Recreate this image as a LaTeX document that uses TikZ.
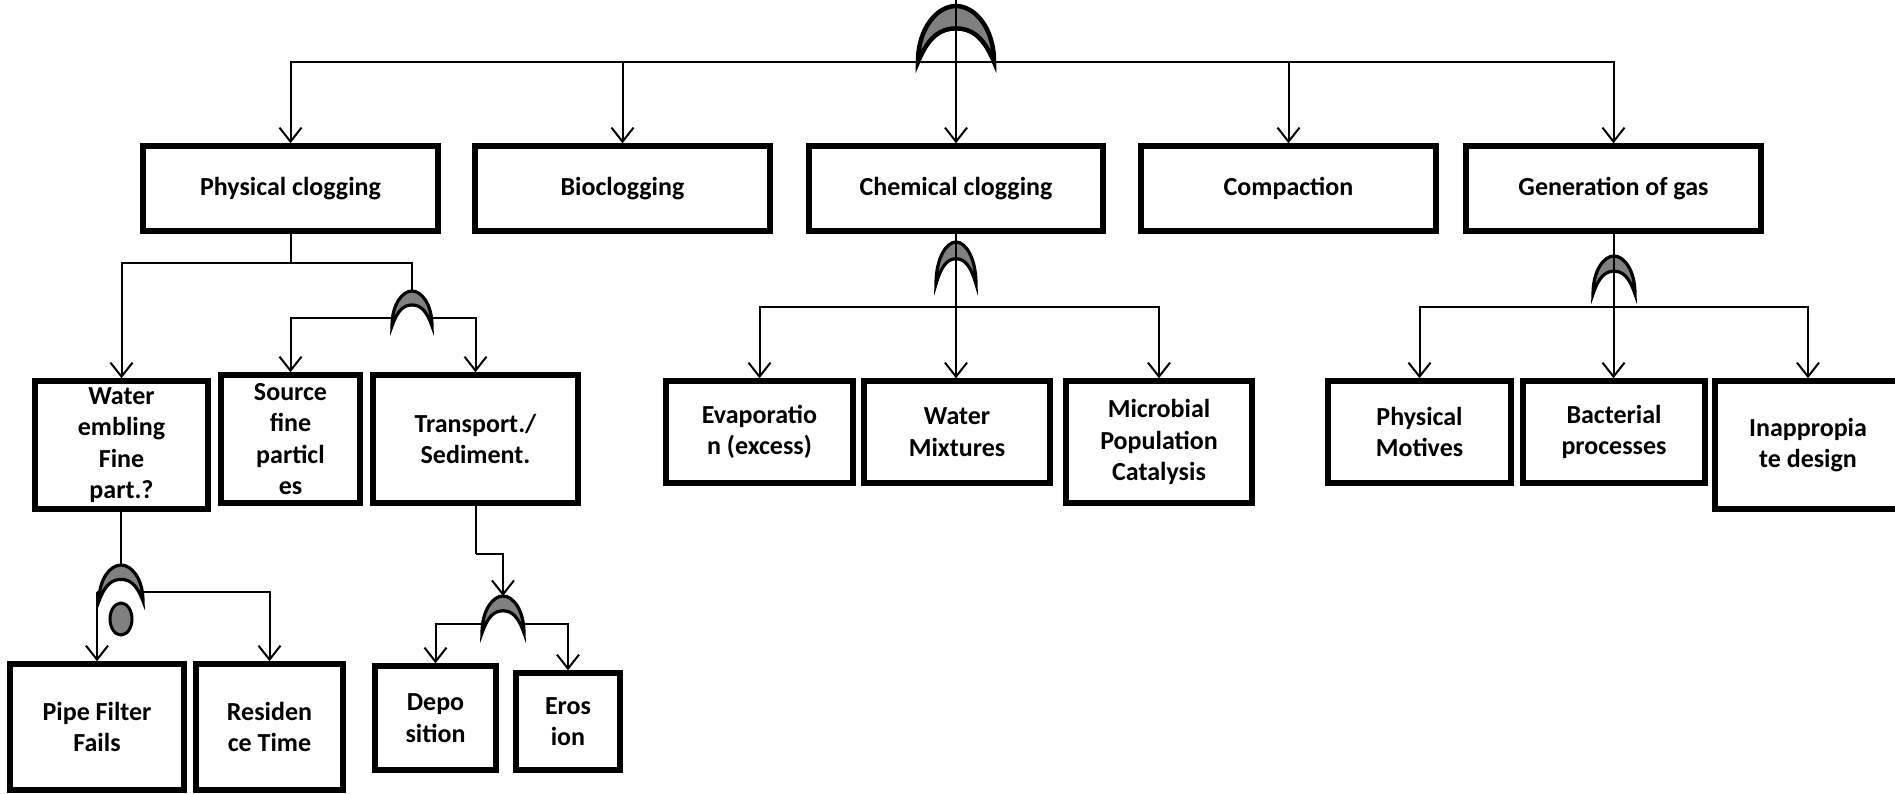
\documentclass[tikz,border=0pt]{standalone}
\usepackage{fontspec}
\setmainfont{Carlito}
\usetikzlibrary{arrows.meta,shapes.geometric,calc}
\tikzset{
  box/.style={draw, line width=5.5pt, inner sep=0pt, align=center,
    font=\fontsize{26}{31.5}\selectfont\bfseries},
  arr/.style={line width=2pt, -{Straight Barb[length=14pt,width=22pt]}},
  ln/.style={line width=2pt},
  gatefill/.style={fill=gray, draw=black, line join=miter},
  pics/orgate/.style n args={3}{code={
    \filldraw[gatefill, line width=#3] (-#1/2,0) .. controls (-#1/2,-0.62*#2) and (-0.24*#1,-#2) .. (0,-#2)
      .. controls (0.24*#1,-#2) and (#1/2,-0.62*#2) .. (#1/2,0)
      .. controls (0.36*#1,-0.46*#2) and (0.2*#1,-0.6*#2) .. (0,-0.6*#2)
      .. controls (-0.2*#1,-0.6*#2) and (-0.36*#1,-0.46*#2) .. cycle;
  }}
}
\begin{document}
\begin{tikzpicture}[x=1pt,y=-1pt]
\useasboundingbox (0,0) rectangle (1895,793);
% boxes
\node[box, minimum width=295, minimum height=85] (phys) at (290.5,188.5) {Physical clogging};
\node[box, minimum width=295, minimum height=85] (bio) at (622.5,188.5) {Bioclogging};
\node[box, minimum width=294, minimum height=85] (chem) at (956,188.5) {Chemical clogging};
\node[box, minimum width=295, minimum height=85] (comp) at (1288.5,188.5) {Compaction};
\node[box, minimum width=295, minimum height=85] (gas) at (1613.5,188.5) {Generation of gas};
\node[box, minimum width=173, minimum height=128] (water) at (121.5,445) {Water\\embling\\Fine\\part.?};
\node[box, minimum width=139, minimum height=128] (source) at (290.5,439) {Source\\fine\\particl\\es};
\node[box, minimum width=205, minimum height=128] (transport) at (475.5,439) {Transport./\\Sediment.};
\node[box, minimum width=174, minimum height=126] (pipe) at (97,727) {Pipe Filter\\Fails};
\node[box, minimum width=147, minimum height=126] (resid) at (269.5,727) {Residen\\ce Time};
\node[box, minimum width=121, minimum height=104] (depo) at (435.5,718) {Depo\\sition};
\node[box, minimum width=104, minimum height=97] (eros) at (568,721.5) {Eros\\ion};
\node[box, minimum width=187, minimum height=102] (evap) at (759.5,432) {Evaporatio\\n (excess)};
\node[box, minimum width=186, minimum height=102] (wmix) at (957,432) {Water\\Mixtures};
\node[box, minimum width=186, minimum height=122] (micro) at (1159,442) {Microbial\\Population\\Catalysis};
\node[box, minimum width=183, minimum height=102] (pmot) at (1419.5,432) {Physical\\Motives};
\node[box, minimum width=182, minimum height=102] (bact) at (1614,432) {Bacterial\\processes};
\node[box, minimum width=186, minimum height=128] (inap) at (1808,445) {Inappropia\\te design};
% gates (bottom-centre coordinates)
\coordinate (g1) at (956,62);
\coordinate (g2) at (412,326);
\coordinate (g3) at (121,601);
\coordinate (g4) at (503,633);
\coordinate (g5) at (956,284);
\coordinate (g6) at (1614,294);
\pic at (g1) {orgate={76}{56}{4.5pt}};
\pic at (g2) {orgate={40}{35}{3.2pt}};
\pic at (g3) {orgate={44}{36}{3.2pt}};
\pic at (g4) {orgate={42}{37}{3.2pt}};
\pic at (g5) {orgate={40}{42}{3.2pt}};
\pic at (g6) {orgate={42}{38}{3.2pt}};
\node[ellipse, draw, line width=3pt, fill=gray, minimum width=22, minimum height=32, inner sep=0pt] (inh) at (121,619) {};
% top level
\coordinate (top) at (956,0);
\coordinate (tj) at (956,62);
\draw[arr] (top) -- (chem.north);
\draw[arr] (tj) -| (phys.north);
\draw[arr] (tj) -| (bio.north);
\draw[arr] (tj) -| (comp.north);
\draw[arr] (tj) -| (gas.north);
% physical clogging
\coordinate (pj) at (290.5,263);
\coordinate (g2in) at (412,291);
\coordinate (g2l) at (392,318);
\coordinate (g2r) at (432,318);
\draw[ln] (phys.south) -- (pj);
\draw[arr] (pj) -| (water.north);
\draw[ln] (pj) -| (g2in);
\draw[arr] (g2l) -| (source.north);
\draw[arr] (g2r) -| (transport.north);
% water gate
\coordinate (g3in) at (121,565);
\coordinate (g3l) at (99,592);
\coordinate (g3r) at (143,592);
\coordinate (pl) at (97,592);
\draw[ln] (water.south -| g3in) -- (g3in);
\draw[ln] (g3l) -- (pl);
\draw[arr] (pl) -- (pipe.north);
\draw[arr] (g3r) -| (resid.north);
% transport gate
\coordinate (tk) at (475.5,554);
\coordinate (g4in) at (503,596);
\coordinate (g4l) at (482,624);
\coordinate (g4r) at (524,624);
\draw[ln] (transport.south) -- (tk);
\draw[arr] (tk) -| (g4in);
\draw[arr] (g4l) -| (depo.north);
\draw[arr] (g4r) -| (eros.north);
% chemical
\coordinate (cj) at (956,307);
\draw[arr] (chem.south) -- (wmix.north -| chem.south);
\draw[arr] (cj) -| (evap.north);
\draw[arr] (cj) -| (micro.north);
% gas
\coordinate (gj) at (1613.5,307);
\draw[arr] (gas.south) -- (bact.north -| gas.south);
\draw[arr] (gj) -| (pmot.north);
\draw[arr] (gj) -| (inap.north);
\end{tikzpicture}
\end{document}
